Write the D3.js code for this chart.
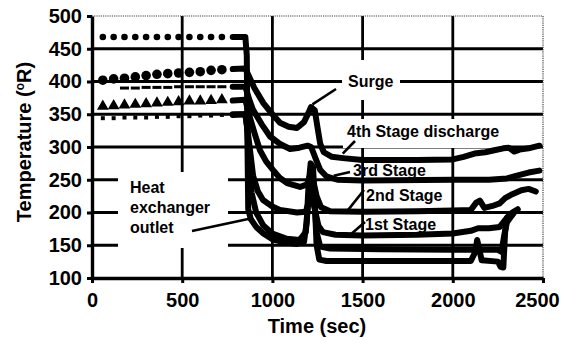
<!DOCTYPE html>
<html>
<head>
<meta charset="utf-8">
<script src="https://cdn.jsdelivr.net/npm/d3@7"></script>
<style>
  body { margin: 0; background: #fff; }
  svg { display: block; }
  text { font-family: "Liberation Sans", Arial, Helvetica, sans-serif; font-weight: bold; fill: #000; }
</style>
</head>
<body>
<svg id="chart" width="562" height="343"></svg>
<script>
// Axis ticks
const xTicks = [0, 500, 1000, 1500, 2000, 2500];
const yTicks = [100, 150, 200, 250, 300, 350, 400, 450, 500];

// Steady-state samples before cooldown (time in s, temperature in °R)
const sampleTime   = [60, 120, 180, 240, 300, 360, 420, 480, 540, 600, 660, 720];
const hxSamples    = [468, 468, 468, 468, 468, 468, 468, 468, 468, 468, 468, 468];
const st4Samples   = [402, 404, 405, 407, 409, 411, 412, 413, 414, 415, 417, 418];
const st3Samples   = [null, null, 390, 390, 391, 391, 391, 392, 392, 392, 392, 392];
const st2Samples   = [362, 363, 364, 365, 366, 367, 368, 369, 370, 370, 371, 372];
const st1Samples   = [344, 344, 345, 345, 345, 346, 346, 347, 347, 348, 348, 349];

// Cooldown and surge traces: [time, temperature]
const hxTrace = [[780,468],[850,468],[858,440],[862,300],[866,205],[880,190],[910,178],[950,168],[1000,159],
  [1060,155],[1136,152],[1175,155],[1190,185],[1200,240],[1212,275],[1225,270],[1235,215],[1245,150],[1260,128],
  [1300,126],[1500,126],[1800,126],[2100,126],[2125,140],[2135,158],[2150,140],[2160,127],[2250,125],[2265,117],
  [2280,116],[2290,170],[2300,192],[2330,197]];
const auxTrace = [[780,350],[850,350],[860,330],[870,280],[885,230],[910,200],[950,180],[1000,168],[1080,160],
  [1150,158],[1185,170],[1200,220],[1215,245],[1230,230],[1245,170],[1265,148],[1320,145],[1600,144],[2000,143],
  [2250,143],[2270,140],[2285,165],[2300,185],[2340,200]];
const st1Trace = [[780,349],[850,350],[865,320],[876,295],[893,256],[920,232],[948,219],[1000,209],[1042,204],
  [1136,200],[1185,201],[1200,215],[1215,228],[1235,205],[1255,180],[1280,170],[1350,166],[1500,165],[1800,166],
  [2000,168],[2100,172],[2140,176],[2200,176],[2260,178],[2300,192],[2330,200],[2360,205]];
const st2Trace = [[780,371],[850,372],[870,350],[900,322],[931,295],[965,278],[1003,265],[1040,253],[1081,245],
  [1153,239],[1192,243],[1210,258],[1225,250],[1245,225],[1270,208],[1320,202],[1500,201],[1800,202],[2000,203],
  [2100,204],[2130,215],[2150,218],[2175,207],[2220,210],[2260,214],[2290,222],[2330,228],[2380,234],[2420,236],
  [2460,232]];
const st3Trace = [[780,392],[850,392],[870,374],[892,357],[940,335],[987,316],[1040,305],[1098,297],[1150,299],
  [1195,302],[1215,300],[1240,282],[1265,265],[1300,255],[1360,250],[1500,249],[2000,250],[2200,250],[2300,252],
  [2350,256],[2420,261],[2480,264]];
const st4Trace = [[780,419],[850,420],[870,408],[900,390],[950,367],[1000,350],[1042,337],[1090,331],[1136,329],
  [1175,338],[1200,352],[1214,361],[1235,356],[1250,330],[1265,305],[1285,292],[1330,285],[1390,283],[1500,280],
  [1800,280],[2000,281],[2060,285],[2120,290],[2180,292],[2230,295],[2280,298],[2310,299],[2340,293],[2370,296],
  [2420,298],[2480,302]];

const svg = d3.select("#chart");
const x = d3.scaleLinear().domain([0, 2500]).range([92, 543]);
const y = d3.scaleLinear().domain([100, 500]).range([278, 16]);

// Grid
const grid = svg.append("g");
grid.selectAll(".hg").data(yTicks.filter(v => v > 100 && v < 500)).join("line")
  .attr("x1", x(0)).attr("x2", x(2500)).attr("y1", d => y(d)).attr("y2", d => y(d))
  .attr("stroke", "#000").attr("stroke-width", 2.8);
grid.selectAll(".vg").data(xTicks.filter(v => v > 0 && v < 2500)).join("line")
  .attr("y1", y(100)).attr("y2", y(500)).attr("x1", d => x(d)).attr("x2", d => x(d))
  .attr("stroke", "#000").attr("stroke-width", 2.8);
// Top and right frame, dotted
grid.append("path")
  .attr("d", `M${x(0)},${y(500)}H${x(2500)}V${y(100)}`)
  .attr("fill", "none").attr("stroke", "#444").attr("stroke-width", 1.2)
  .attr("stroke-dasharray", "1.2,1");

// White backing boxes behind the free-standing notes
const boxes = [
  {x0: 118, x1: 228, y0: 172, y1: 248},
  {x0: 342, x1: 400, y0: 60, y1: 100},
  {x0: 343, x1: 506, y0: 119, y1: 148}
];
svg.append("g").selectAll("rect").data(boxes).join("rect")
  .attr("x", d => d.x0).attr("y", d => d.y0)
  .attr("width", d => d.x1 - d.x0).attr("height", d => d.y1 - d.y0)
  .attr("fill", "#fff");

const notes = svg.append("g").style("font-size", "16px");
const hxText = notes.append("text").attr("x", 130).attr("y", 193);
hxText.append("tspan").attr("x", 130).attr("dy", 0).text("Heat");
hxText.append("tspan").attr("x", 130).attr("dy", 19.5).text("exchanger");
hxText.append("tspan").attr("x", 130).attr("dy", 20.5).text("outlet");
notes.append("text").attr("x", 348).attr("y", 86.5).text("Surge");
notes.append("text").attr("x", 347).attr("y", 137).text("4th Stage discharge");
notes.append("text").attr("x", 353).attr("y", 176).text("3rd Stage");
notes.append("text").attr("x", 366).attr("y", 201).text("2nd Stage");
notes.append("text").attr("x", 365).attr("y", 229.5).text("1st Stage");

// Traces
const line = d3.line().x(d => x(d[0])).y(d => y(d[1])).curve(d3.curveLinear);
const traces = [hxTrace, auxTrace, st1Trace, st2Trace, st3Trace, st4Trace];
svg.append("g").selectAll("path").data(traces).join("path")
  .attr("d", line)
  .attr("fill", "none").attr("stroke", "#000").attr("stroke-width", 6)
  .attr("stroke-linejoin", "round").attr("stroke-linecap", "round");

// Steady-state markers
const mk = svg.append("g").attr("fill", "#000");
const pts = vals => sampleTime.map((t, i) => [t, vals[i]]).filter(d => d[1] != null);
mk.selectAll(".hx").data(pts(hxSamples)).join("circle")
  .attr("cx", d => x(d[0])).attr("cy", d => y(d[1])).attr("r", 3.3);
mk.selectAll(".s4").data(pts(st4Samples)).join("circle")
  .attr("cx", d => x(d[0])).attr("cy", d => y(d[1])).attr("r", 4.8);
mk.selectAll(".s3").data(pts(st3Samples)).join("rect")
  .attr("x", d => x(d[0]) - 4.5).attr("y", d => y(d[1]) - 1.5).attr("width", 9).attr("height", 3);
mk.selectAll(".s2").data(pts(st2Samples)).join("path")
  .attr("transform", d => `translate(${x(d[0])},${y(d[1])})`)
  .attr("d", d3.symbol(d3.symbolTriangle, 60));
mk.selectAll(".s1").data(pts(st1Samples)).join("path")
  .attr("transform", d => `translate(${x(d[0])},${y(d[1])})`)
  .attr("d", d3.symbol(d3.symbolSquare, 16));

// Leader lines from labels to traces
const leaders = [
  [[192, 231], [x(866), y(190)]],
  [[336, 89], [x(1222), y(365)]],
  [[355, 141], [x(1390), y(290)]],
  [[350, 172], [x(1340), y(256)]],
  [[364, 190], [x(1420), y(204)]],
  [[365, 222], [x(1440), y(168)]]
];
svg.append("g").selectAll("line").data(leaders).join("line")
  .attr("x1", d => d[0][0]).attr("y1", d => d[0][1])
  .attr("x2", d => d[1][0]).attr("y2", d => d[1][1])
  .attr("stroke", "#000").attr("stroke-width", 2.6);

// Axes
const yAxis = svg.append("g").attr("transform", `translate(${x(0)},0)`)
  .call(d3.axisLeft(y).tickValues(yTicks).tickFormat(d3.format("d"))
    .tickSize(5).tickSizeOuter(0).tickPadding(5));
const xAxis = svg.append("g").attr("transform", `translate(0,${y(100)})`)
  .call(d3.axisBottom(x).tickValues(xTicks).tickFormat(d3.format("d"))
    .tickSize(5).tickSizeOuter(0).tickPadding(10));
[yAxis, xAxis].forEach(g => {
  g.select(".domain").attr("stroke", "#000").attr("stroke-width", 3.4);
  g.selectAll(".tick line").attr("stroke", "#000").attr("stroke-width", 3);
  g.selectAll(".tick text").style("font-size", "20px").style("font-family", null).attr("fill", "#000");
});
// keep the last time label inside the page
xAxis.selectAll(".tick text").filter(d => d === 2500).attr("dx", -6);

// Axis titles
svg.append("text").attr("x", 317).attr("y", 333).attr("text-anchor", "middle")
  .style("font-size", "20px").text("Time (sec)");
const yt = svg.append("text").attr("transform", "translate(31,142) rotate(-90)")
  .attr("text-anchor", "middle").style("font-size", "20px");
yt.append("tspan").text("Temperature (");
yt.append("tspan").attr("dy", -7).style("font-size", "12px").text("o");
yt.append("tspan").attr("dy", 7).text("R)");
</script>
</body>
</html>
